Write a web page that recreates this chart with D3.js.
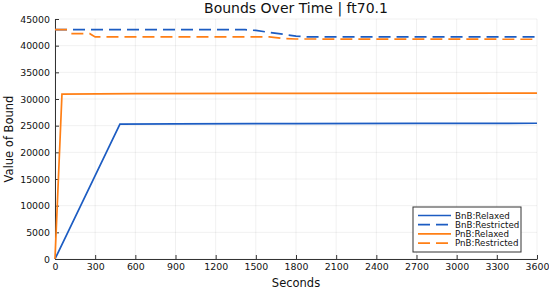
<!DOCTYPE html>
<html><head><meta charset="utf-8">
<script src="https://cdn.jsdelivr.net/npm/d3@7"></script>
<style>body{margin:0;background:#fff}svg{display:block;font-family:"DejaVu Sans",sans-serif}</style>
</head><body><svg id="c" width="549" height="292"></svg>
<script>
const xTicks = [0,300,600,900,1200,1500,1800,2100,2400,2700,3000,3300,3600];
const yTicks = [0,5000,10000,15000,20000,25000,30000,35000,40000,45000];
const bnbRelaxedT = [0, 485, 900, 1800, 2700, 3600];
const bnbRelaxedV = [0, 25300, 25350, 25400, 25420, 25450];
const bnbRestrictedT = [0, 1420, 1500, 1600, 1700, 1800, 1880, 3600];
const bnbRestrictedV = [43000, 43000, 42850, 42500, 42150, 41800, 41650, 41650];
const pnbRelaxedT = [0, 52, 600, 1800, 3600];
const pnbRelaxedV = [0, 30900, 31000, 31050, 31100];
const pnbRestrictedT = [0, 90, 120, 260, 300, 1600, 1700, 1800, 3600];
const pnbRestrictedV = [43000, 43000, 42250, 42250, 41650, 41650, 41350, 41250, 41200];
const seriesNames = ["BnB:Relaxed","BnB:Restricted","PnB:Relaxed","PnB:Restricted"];
const colors = ["#1c5cc2","#1c5cc2","#ff7f15","#ff7f15"];
const dashed = [false,true,false,true];

const series = [
  {t:bnbRelaxedT,v:bnbRelaxedV},{t:bnbRestrictedT,v:bnbRestrictedV},
  {t:pnbRelaxedT,v:pnbRelaxedV},{t:pnbRestrictedT,v:pnbRestrictedV}
];
const svg = d3.select("#c");
const L=55,R=537,T=19,B=259;
const x = d3.scaleLinear().domain([0,3600]).range([L,R]);
const y = d3.scaleLinear().domain([0,45000]).range([B,T]);

svg.append("g").selectAll("line").data(xTicks).join("line")
  .attr("x1",d=>x(d)).attr("x2",d=>x(d)).attr("y1",T).attr("y2",B)
  .attr("stroke","#000").attr("stroke-opacity",0.1).attr("stroke-width",0.6);
svg.append("g").selectAll("line").data(yTicks).join("line")
  .attr("x1",L).attr("x2",R).attr("y1",d=>y(d)).attr("y2",d=>y(d))
  .attr("stroke","#000").attr("stroke-opacity",0.1).attr("stroke-width",0.6);

const xa = svg.append("g").attr("transform",`translate(0,${B})`)
  .call(d3.axisBottom(x).tickValues(xTicks).tickFormat(d3.format("d")).tickSizeInner(-4).tickSizeOuter(0).tickPadding(6));
const ya = svg.append("g").attr("transform",`translate(${L},0)`)
  .call(d3.axisLeft(y).tickValues(yTicks).tickFormat(d3.format("d")).tickSizeInner(-4).tickSizeOuter(0).tickPadding(5));
[xa,ya].forEach(a=>{
  a.select(".domain").attr("stroke","#333").attr("stroke-width",1);
  a.selectAll(".tick line").attr("stroke","#333");
  a.selectAll("text").attr("font-size","9.4px").attr("fill","#111").attr("font-family","DejaVu Sans");
});
xa.selectAll("text").attr("dy","0.55em");

const line = d3.line().x(d=>x(d[0])).y(d=>y(d[1]));
series.forEach((s,i)=>{
  const pts = s.t.map((t,k)=>[t,s.v[k]]);
  svg.append("path").datum(pts).attr("d",line).attr("fill","none")
    .attr("stroke",colors[i]).attr("stroke-width",1.7)
    .attr("stroke-dasharray",dashed[i]?"12,6":null);
});

svg.append("text").attr("x",296).attr("y",13).attr("text-anchor","middle")
  .attr("font-size","14px").attr("fill","#111").text("Bounds Over Time | ft70.1");
svg.append("text").attr("x",296).attr("y",287).attr("text-anchor","middle")
  .attr("font-size","11.5px").attr("fill","#111").text("Seconds");
svg.append("text").attr("transform","translate(13,139) rotate(-90)").attr("text-anchor","middle")
  .attr("font-size","11.5px").attr("fill","#111").text("Value of Bound");

const lg = svg.append("g");
lg.append("rect").attr("x",413).attr("y",207).attr("width",108).attr("height",45)
  .attr("fill","#fff").attr("stroke","#333").attr("stroke-width",1);
seriesNames.forEach((n,i)=>{
  const yy = 215.5 + i*9.2;
  lg.append("line").attr("x1",418).attr("x2",451).attr("y1",yy).attr("y2",yy)
    .attr("stroke",colors[i]).attr("stroke-width",1.7)
    .attr("stroke-dasharray",dashed[i]?"12,6":null);
  lg.append("text").attr("x",455).attr("y",yy+3).attr("font-size","8.7px").attr("fill","#111").text(n);
});
</script></body></html>
